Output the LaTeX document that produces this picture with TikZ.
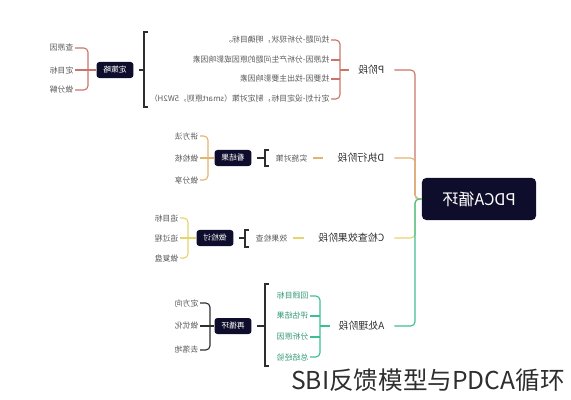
\documentclass[tikz,border=0pt]{standalone}
\usepackage{graphicx}
\usepackage{xcolor}
\usepackage{fontspec}
\setmainfont{Noto Sans CJK SC}
\usepackage{tikz}

\definecolor{navy}{HTML}{0E0E2C}
\definecolor{pcol}{HTML}{C9756A}
\definecolor{dcol}{HTML}{E3B470}
\definecolor{ccol}{HTML}{E6D46E}
\definecolor{acol}{HTML}{3DBE93}
\definecolor{txt}{HTML}{5A5A5A}
\definecolor{txtdark}{HTML}{2E2E2E}
\newcommand{\mr}[1]{\reflectbox{#1}}

\begin{document}
\begin{tikzpicture}[x=0.025cm,y=-0.025cm,
  rootbox/.style={fill=navy,text=white,rounded corners=3pt,minimum width=2.85cm,minimum height=1.05cm,inner sep=0pt,font=\fontsize{11.5}{12}\selectfont},
  darkbox/.style={fill=navy,text=white,rounded corners=2pt,minimum width=0.92cm,minimum height=0.4cm,inner sep=0pt,font=\fontsize{5.5}{6}\selectfont},
  phase/.style={anchor=east,inner sep=1pt,text=txtdark,font=\fontsize{7.1}{8}\selectfont},
  item/.style={anchor=east,inner sep=1pt,text=txt,font=\fontsize{5.6}{6}\selectfont},
  branch/.style={line width=0.8pt,rounded corners=3pt},
  sq/.style={line width=1pt,draw=txtdark}]
\useasboundingbox (0,0) rectangle (571,400);

% root and trunk
\node[rootbox] (root) at (479,199) {\mr{PDCA循环}};
\coordinate (trunk) at (415,199);
\node[phase] (P) at (386,70) {\mr{P阶段}};
\node[phase] (D) at (386,158) {\mr{D执行阶段}};
\node[phase] (C) at (386,238) {\mr{C检查效果阶段}};
\node[phase] (A) at (386,326) {\mr{A处理阶段}};
\draw[branch,pcol,shorten <=6pt] (P.east) -- (P.east -| trunk) -- (trunk) -- (root.west);
\draw[branch,dcol,shorten <=6pt] (D.east) -- (D.east -| trunk) -- (trunk) -- (root.west);
\draw[branch,ccol,shorten <=6pt] (C.east) -- (C.east -| trunk) -- (trunk) -- (root.west);
\draw[branch,acol,shorten <=6pt] (A.east) -- (A.east -| trunk) -- (trunk) -- (root.west);

% P
\node[item] (p1) at (331,40) {\mr{找问题-分析现状，明确目标。}};
\node[item] (p2) at (331,60) {\mr{找原因-分析产生问题的原因或影响因素}};
\node[item] (p3) at (331,79) {\mr{找要因-找出主要影响因素}};
\node[item] (p4) at (331,99) {\mr{定计划-设定目标，制定对策（smart原则，5W2H）}};
\coordinate (pb) at (340,70);
\draw[branch,pcol] (p1.east) -- (p1.east -| pb) -- (p4.east -| pb) -- (p4.east);
\draw[branch,pcol] (p2.east) -- (p2.east -| pb);
\draw[branch,pcol] (p3.east) -- (p3.east -| pb);
\draw[branch,pcol,shorten >=5pt] (pb) -- (P.west);
\draw[sq] (148,32) -- (144,32) -- (144,107) -- (148,107);
\coordinate (pk) at (144,70);
\node[darkbox] (pbox) at (115,70) {\mr{定策略}};
\draw[sq,shorten <=4pt] (pbox.east) -- (pk);
\node[item] (ps1) at (75,48) {\mr{查原因}};
\node[item] (ps2) at (75,70) {\mr{定目标}};
\node[item] (ps3) at (75,90) {\mr{做分解}};
\coordinate (psb) at (88,70);
\draw[branch,pcol] (ps1.east) -- (ps1.east -| psb) -- (ps3.east -| psb) -- (ps3.east);
\draw[branch,pcol] (ps2.east) -- (pbox.west);

% D
\node[item] (dm) at (309,158) {\mr{实施对策}};
\draw[branch,dcol,shorten <=3pt,shorten >=9pt] (dm.east) -- (D.west);
\draw[sq] (269,150) -- (265,150) -- (265,166) -- (269,166);
\coordinate (dk) at (265,158);
\node[darkbox] (dbox) at (233,158) {\mr{看结果}};
\draw[sq,shorten <=4pt] (dbox.east) -- (dk);
\node[item] (d1) at (200,136) {\mr{讲方法}};
\node[item] (d2) at (200,158) {\mr{做检核}};
\node[item] (d3) at (200,180) {\mr{做分享}};
\coordinate (db) at (208,158);
\draw[branch,dcol] (d1.east) -- (d1.east -| db) -- (d3.east -| db) -- (d3.east);
\draw[branch,dcol] (d2.east) -- (dbox.west);

% C
\node[item] (cm) at (289,238) {\mr{效果检查}};
\draw[branch,ccol,shorten <=3pt,shorten >=9pt] (cm.east) -- (C.west);
\draw[sq] (249,230) -- (245,230) -- (245,247) -- (249,247);
\coordinate (ck) at (245,238);
\node[darkbox] (cbox) at (215,238) {\mr{做检讨}};
\draw[sq,shorten <=4pt] (cbox.east) -- (ck);
\node[item] (c1) at (180,218) {\mr{追目标}};
\node[item] (c2) at (180,238) {\mr{追过程}};
\node[item] (c3) at (180,258) {\mr{做复盘}};
\coordinate (cb) at (188,238);
\draw[branch,ccol] (c1.east) -- (c1.east -| cb) -- (c3.east -| cb) -- (c3.east);
\draw[branch,ccol] (c2.east) -- (cbox.west);

% A
\node[item,text=acol!80!black] (a1) at (310,296) {\mr{回顾目标}};
\node[item,text=acol!80!black] (a2) at (310,316) {\mr{评估结果}};
\node[item,text=acol!80!black] (a3) at (310,337) {\mr{分析原因}};
\node[item,text=acol!80!black] (a4) at (310,357) {\mr{总结经验}};
\coordinate (ab) at (320,326);
\draw[branch,acol] (a1.east) -- (a1.east -| ab) -- (a4.east -| ab) -- (a4.east);
\draw[branch,acol] (a2.east) -- (a2.east -| ab);
\draw[branch,acol] (a3.east) -- (a3.east -| ab);
\draw[branch,acol,shorten >=5pt] (ab) -- (A.west);
\draw[sq] (269,284) -- (265,284) -- (265,366) -- (269,366);
\coordinate (ak) at (265,326);
\node[darkbox] (abox) at (233,326) {\mr{再循环}};
\draw[sq,shorten <=4pt] (abox.east) -- (ak);
\node[item] (as1) at (200,303) {\mr{定方向}};
\node[item] (as2) at (200,326) {\mr{做优化}};
\node[item] (as3) at (200,350) {\mr{去落地}};
\coordinate (asb) at (210,326);
\draw[branch,txtdark] (as1.east) -- (as1.east -| asb) -- (as3.east -| asb) -- (as3.east);
\draw[branch,txtdark] (as2.east) -- (abox.west);

% caption
\node[font=\fontsize{17.5}{18}\selectfont,text=txtdark] (cap) at (428,380) {SBI反馈模型与PDCA循环};
\end{tikzpicture}
\end{document}
